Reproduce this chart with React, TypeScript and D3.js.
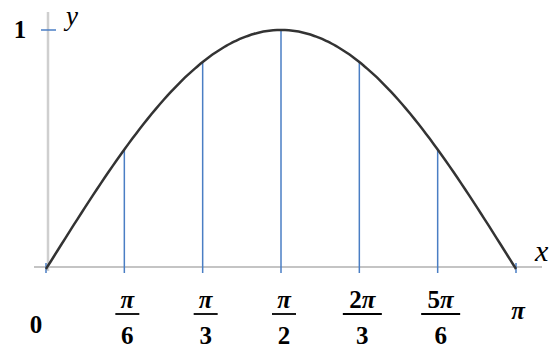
import React from 'react';
import * as d3 from 'd3';

// tick positions as multiples of pi, with their fraction labels
const tickFractions = [1 / 6, 1 / 3, 1 / 2, 2 / 3, 5 / 6];
const tickNumerators = ['π', 'π', 'π', '2π', '5π'];
const tickDenominators = ['6', '3', '2', '3', '6'];

// sampled points of y = sin x on [0, pi]
const curveSteps = d3.range(0, 121);

const App = () => {
  const svgRef = React.useRef<SVGSVGElement | null>(null);

  const width = 557;
  const height = 349;

  React.useEffect(() => {
    const svg = d3.select(svgRef.current);
    svg.selectAll('*').remove();

    const x = d3.scaleLinear().domain([0, Math.PI]).range([46, 516]);
    const y = d3.scaleLinear().domain([0, 1]).range([269, 30]);

    const serif = '"Liberation Serif", "Times New Roman", serif';
    const blue = '#4a7ec4';

    // axes
    svg.append('line')
      .attr('x1', 34).attr('x2', 542)
      .attr('y1', y(0) - 2).attr('y2', y(0) - 2)
      .attr('stroke', '#c4c4c4').attr('stroke-width', 2);

    svg.append('line')
      .attr('x1', 48).attr('x2', 48)
      .attr('y1', 12).attr('y2', y(0) + 2)
      .attr('stroke', '#cfcfcf').attr('stroke-width', 2.5);

    // tick at y = 1
    svg.append('line')
      .attr('x1', 41).attr('x2', 56)
      .attr('y1', y(1)).attr('y2', y(1))
      .attr('stroke', blue).attr('stroke-width', 1.5);

    // small ticks at 0 and pi
    [0, Math.PI].forEach(v => {
      svg.append('line')
        .attr('x1', x(v)).attr('x2', x(v))
        .attr('y1', y(0) - 6).attr('y2', y(0) + 4)
        .attr('stroke', blue).attr('stroke-width', 1.5);
    });

    // vertical lines from axis up to the curve
    svg.append('g')
      .selectAll('line')
      .data(tickFractions)
      .enter()
      .append('line')
      .attr('x1', d => x(d * Math.PI))
      .attr('x2', d => x(d * Math.PI))
      .attr('y1', y(0) + 4)
      .attr('y2', d => y(Math.sin(d * Math.PI)))
      .attr('stroke', blue)
      .attr('stroke-width', 1.5);

    // the sine curve
    const line = d3.line<number>()
      .x(i => x((i / 120) * Math.PI))
      .y(i => y(Math.sin((i / 120) * Math.PI)))
      .curve(d3.curveBasis);

    svg.append('path')
      .datum(curveSteps)
      .attr('d', line)
      .attr('fill', 'none')
      .attr('stroke', '#333')
      .attr('stroke-width', 2.5);

    // fraction labels
    const labels = svg.append('g')
      .attr('font-family', serif)
      .attr('font-weight', 'bold')
      .attr('font-size', 25)
      .attr('text-anchor', 'middle');

    tickFractions.forEach((d, i) => {
      const cx = x(d * Math.PI) + 3;
      const barW = tickNumerators[i].length > 1 ? 39 : 24;
      const num = labels.append('text')
        .attr('x', cx).attr('y', 308);
      if (tickNumerators[i].length > 1) {
        num.append('tspan').text(tickNumerators[i][0]);
      }
      num.append('tspan').attr('font-style', 'italic').text('π');
      labels.append('line')
        .attr('x1', cx - barW / 2).attr('x2', cx + barW / 2)
        .attr('y1', 314).attr('y2', 314)
        .attr('stroke', '#000').attr('stroke-width', 1.8);
      labels.append('text')
        .attr('x', cx).attr('y', 344)
        .text(tickDenominators[i]);
    });

    labels.append('text')
      .attr('x', 36).attr('y', 333)
      .text('0');

    labels.append('text')
      .attr('x', x(Math.PI) + 2).attr('y', 319)
      .attr('font-style', 'italic')
      .text('π');

    labels.append('text')
      .attr('x', 20).attr('y', 38)
      .text('1');

    // axis names
    svg.append('text')
      .attr('x', 535).attr('y', 261)
      .attr('font-family', serif)
      .attr('font-style', 'italic')
      .attr('font-size', 30)
      .text('x');

    svg.append('text')
      .attr('x', 66).attr('y', 25)
      .attr('font-family', serif)
      .attr('font-style', 'italic')
      .attr('font-size', 27)
      .text('y');
  }, []);

  return (
    <svg
      ref={svgRef}
      width={width}
      height={height}
      style={{ position: 'absolute', left: 0, top: 0, background: '#fff' }}
    />
  );
};

export default App;
